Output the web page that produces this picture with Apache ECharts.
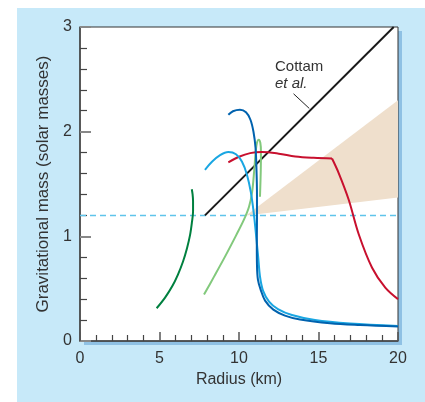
<!DOCTYPE html>
<html>
<head>
<meta charset="utf-8">
<script src="https://cdn.jsdelivr.net/npm/echarts@6/dist/echarts.min.js"></script>
<style>
html, body { margin: 0; padding: 0; background: #fff; }
#chart { width: 425px; height: 402px; }
</style>
</head>
<body>
<div id="chart"></div>
<script>
// mass-radius curves, [radius km, mass solar masses]
var darkGreen = [[4.82, 0.313], [5.35, 0.415], [5.79, 0.52], [6.16, 0.635], [6.48, 0.76], [6.73, 0.887], [6.92, 1.011], [7.04, 1.135], [7.11, 1.24], [7.11, 1.336], [7.08, 1.403], [7.03, 1.45]];
var lightGreen = [[7.8, 0.444], [8.43, 0.615], [9.12, 0.806], [9.81, 1.007], [10.31, 1.159], [10.63, 1.283], [10.82, 1.417], [10.96, 1.636], [11.05, 1.808], [11.13, 1.894], [11.24, 1.923], [11.34, 1.894], [11.38, 1.808], [11.37, 1.636], [11.32, 1.379]];
var lightBlue = [[7.86, 1.636], [8.3, 1.712], [8.81, 1.775], [9.33, 1.805], [9.81, 1.784], [10.19, 1.712], [10.5, 1.589], [10.75, 1.417], [10.94, 1.207], [11.1, 0.968], [11.21, 0.797], [11.32, 0.615], [11.51, 0.482], [11.89, 0.377], [12.45, 0.305], [13.33, 0.248], [14.78, 0.2], [16.98, 0.167], [20, 0.143]];
var darkBlue = [[9.33, 2.161], [9.62, 2.195], [10.06, 2.209], [10.44, 2.185], [10.72, 2.114], [10.91, 1.999], [11.04, 1.846], [11.1, 1.636], [11.13, 1.398], [11.13, 1.159], [11.12, 0.921], [11.13, 0.73], [11.19, 0.587], [11.36, 0.491], [11.64, 0.386], [12.16, 0.3], [12.89, 0.243], [13.84, 0.205], [15.72, 0.169], [17.61, 0.152], [20, 0.138]];
var sanwalTop = [[9.33, 1.706], [10.0, 1.76], [10.7, 1.795], [11.45, 1.805], [12.5, 1.79], [13.54, 1.763], [14.7, 1.75], [15.85, 1.744]];
var sanwalDrop = [[15.85, 1.744], [16.27, 1.605], [16.9, 1.35], [17.53, 1.02], [18.37, 0.70], [19.2, 0.51], [20, 0.40]];
var cottam = [[7.86, 1.2], [19.73, 3.0]];
var cottamLeader = [[13.43, 2.362], [14.42, 2.222]];
var wedge = [[10.45, 1.2], [20, 2.3], [20, 1.37]];
var limitLine = [[0, 1.2], [20, 1.2]];

var font = 'Liberation Sans, Arial, sans-serif';

function curve(data, color, width) {
    return {
        type: 'line',
        data: data,
        smooth: 0.35,
        symbol: 'none',
        z: 5,
        lineStyle: {color: color, width: width}
    };
}

var myChart = echarts.init(document.getElementById('chart'));
var option = {
    animation: false,
    graphic: [
        {type: 'rect', z: -100, shape: {x: 17, y: 8, width: 408, height: 394}, style: {fill: '#c7e9f9'}},
        {type: 'rect', z: -50, shape: {x: 84, y: 31, width: 318, height: 314}, style: {fill: '#8fc1e4'}},
        {type: 'text', x: 275, y: 67, style: {text: 'Cottam', font: '15px ' + font, fill: '#333', verticalAlign: 'middle'}},
        {type: 'text', x: 275, y: 84, style: {text: 'et al.', font: 'italic 15px ' + font, fill: '#333', verticalAlign: 'middle'}},
        {type: 'text', x: 391, y: 156, style: {text: 'Sanwal', font: '15px ' + font, fill: '#333', align: 'right', verticalAlign: 'middle'}},
        {type: 'text', x: 391, y: 175, style: {text: 'et al.', font: 'italic 15px ' + font, fill: '#333', align: 'right', verticalAlign: 'middle'}}
    ],
    grid: {
        left: 80, top: 27, width: 318, height: 314,
        show: true,
        backgroundColor: '#fff',
        borderColor: '#333',
        borderWidth: 1
    },
    xAxis: {
        type: 'value', min: 0, max: 20, interval: 5,
        name: 'Radius (km)', nameLocation: 'middle', nameGap: 28,
        nameTextStyle: {fontSize: 16, color: '#333', fontFamily: font},
        axisLine: {lineStyle: {color: '#444', width: 1.5}},
        axisTick: {inside: true, length: 9, lineStyle: {color: '#555', width: 1.5}},
        minorTick: {show: true, splitNumber: 5, length: 6, lineStyle: {color: '#444', width: 1.2}},
        axisLabel: {fontSize: 16, color: '#333', fontFamily: font, margin: 10},
        splitLine: {show: false}
    },
    yAxis: {
        type: 'value', min: 0, max: 3, interval: 1,
        name: 'Gravitational mass (solar masses)', nameLocation: 'middle', nameGap: 27,
        nameTextStyle: {fontSize: 17, color: '#333', fontFamily: font},
        axisLine: {lineStyle: {color: '#444', width: 1.5}},
        axisTick: {inside: true, length: 11, lineStyle: {color: '#888', width: 2}},
        minorTick: {show: true, splitNumber: 5, length: 7, lineStyle: {color: '#444', width: 1.2}},
        axisLabel: {fontSize: 16, color: '#333', fontFamily: font, margin: 8},
        splitLine: {show: false}
    },
    series: [
        {
            type: 'custom',
            z: 1,
            data: [0],
            renderItem: function (params, api) {
                return {
                    type: 'polygon',
                    shape: {points: wedge.map(function (p) { return api.coord(p); })},
                    style: {fill: '#efdfcc'}
                };
            }
        },
        {
            type: 'line', data: limitLine, symbol: 'none', z: 2,
            lineStyle: {color: '#5fc4ea', width: 1.5, type: [6, 4]}
        },
        {
            type: 'line', data: cottam, symbol: 'none', z: 4,
            lineStyle: {color: '#1a1a1a', width: 2}
        },
        {
            type: 'line', data: cottamLeader, symbol: 'none', z: 4,
            lineStyle: {color: '#222', width: 1}
        },
        curve(darkGreen, '#00803f', 2),
        curve(lightGreen, '#82c97c', 2),
        curve(sanwalTop, '#c8102e', 2),
        curve(sanwalDrop, '#c8102e', 2),
        curve(lightBlue, '#19a6e2', 2),
        curve(darkBlue, '#0062ae', 2)
    ]
};
myChart.setOption(option);
</script>
</body>
</html>
